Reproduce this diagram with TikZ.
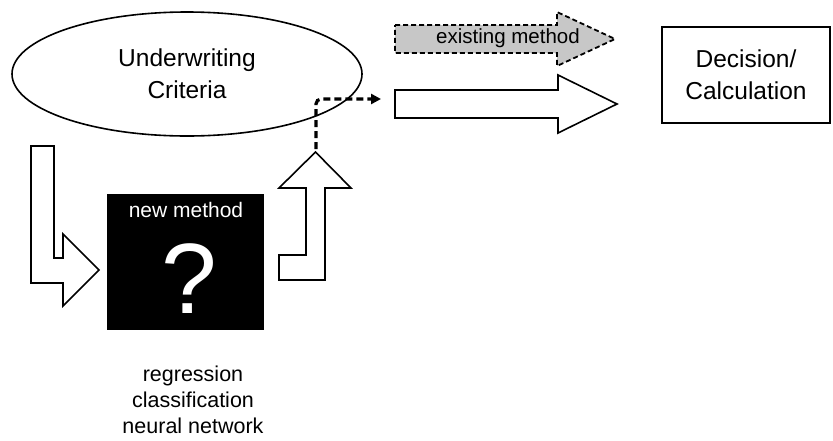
\documentclass[tikz,border=0pt]{standalone}
\usepackage{fontspec}
\setmainfont{Liberation Sans}
\usetikzlibrary{shapes.geometric,arrows.meta}
\begin{document}
\begin{tikzpicture}[x=1pt,y=-1pt,
  outline/.style={draw=black,line width=1.6pt,line join=miter},
  lbl/.style={inner sep=0pt,align=center,font=\fontsize{24.5}{32}\selectfont}
]
\useasboundingbox (0,0) rectangle (833,440);
% ellipse
\node[draw,line width=1.6pt,ellipse,minimum width=350pt,minimum height=124pt,inner sep=0pt,
      lbl] (crit) at (187,74) {Underwriting\\Criteria};
% existing method arrow (gray, dashed)
\draw[outline,fill=black!22,line width=1.8pt,dash pattern=on 5pt off 3pt]
  (395,25) -- (557,25) -- (557,12) -- (615,39) -- (557,66) -- (557,53) -- (395,53) -- cycle;
\node[inner sep=0pt,font=\fontsize{20.5}{24}\selectfont] (exist) at (508,38) {existing method};
% white arrow
\draw[outline,fill=white]
  (395,90) -- (558,90) -- (558,75) -- (617,104) -- (558,133) -- (558,118) -- (395,118) -- cycle;
\coordinate (wtail) at (381,99);
% decision box
\node[draw,line width=1.6pt,minimum width=168pt,minimum height=96pt,lbl] (dec) at (746,75) {Decision/\\Calculation};
% L arrow down-right
\draw[outline,fill=white]
  (31,146) -- (54,146) -- (54,258) -- (63,258) -- (63,234) -- (99,270) -- (63,306) -- (63,283) -- (31,283) -- cycle;
% black box
\node[fill=black,minimum width=157pt,minimum height=136pt,inner sep=0pt] (nm) at (185.5,262) {};
\node[text=white,inner sep=0pt,font=\fontsize{21}{24}\selectfont] (nmt) at (186,210) {new method};
\node[text=white,inner sep=0pt,font=\fontsize{100}{104}\selectfont] (q) at (189,279) {?};
% up arrow
\draw[outline,fill=white]
  (279,255) -- (306,255) -- (306,188) -- (279,188) -- (315.5,152) -- (351,188) -- (325,188) -- (325,280) -- (279,280) -- cycle;
\coordinate (utip) at (316,149);
% dashed connector
\draw[line width=3.2pt,dash pattern=on 7pt off 4pt,rounded corners=5pt,-{Triangle[length=10pt,width=10pt]}]
  (utip) -- (utip |- wtail) -- (wtail);
% bottom text
\node[inner sep=0pt,align=center,font=\fontsize{21.5}{26}\selectfont] (methods) at (193,400)
  {regression\\classification\\neural network};
\end{tikzpicture}
\end{document}
